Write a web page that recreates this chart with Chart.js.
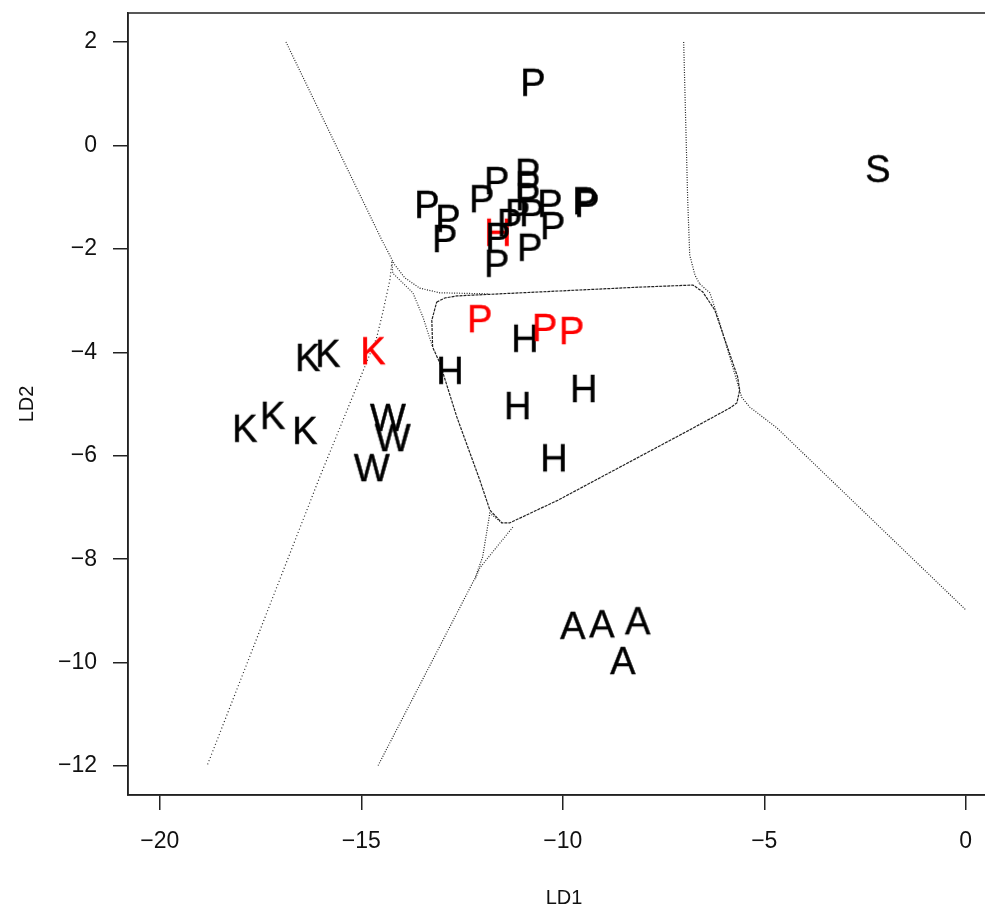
<!DOCTYPE html>
<html>
<head>
<meta charset="utf-8">
<script src="https://cdn.jsdelivr.net/npm/chart.js@4/dist/chart.umd.min.js"></script>
<style>
  html, body { margin: 0; padding: 0; background: #fff; overflow: hidden; }
  #wrap { width: 1010px; height: 910px; }
</style>
</head>
<body>
<div id="wrap"><canvas id="myChart" width="1010" height="910"></canvas></div>
<script>
// group scores (LD1, LD2), one array per label
const pX = [-10.74, -13.37, -12.85, -12.93, -12.01, -11.64, -10.87, -10.87, -11.12, -10.77,
            -10.32, -10.25, -9.45, -9.40, -11.61, -11.32, -10.82, -11.64, -10.87];
const pY = [1.23, -1.13, -1.40, -1.79, -1.02, -0.67, -0.51, -0.75, -1.29, -1.29,
            -1.11, -1.54, -1.06, -1.11, -1.75, -1.48, -1.96, -2.27, -0.98];
const pRedX = [-12.06, -10.45, -9.78];
const pRedY = [-3.34, -3.51, -3.57];
const hX = [-10.94, -12.80, -9.48, -11.12, -10.22];
const hY = [-3.72, -4.34, -4.69, -5.02, -6.03];
const hRedX = [-11.61];
const hRedY = [-1.67];
const kX = [-16.33, -15.83, -17.89, -17.20, -16.40];
const kY = [-4.09, -4.01, -5.46, -5.21, -5.50];
const kRedX = [-14.71];
const kRedY = [-3.96];
const wX = [-14.34, -14.22, -14.74];
const wY = [-5.25, -5.64, -6.22];
const aX = [-9.75, -9.03, -8.14, -8.51];
const aY = [-9.27, -9.24, -9.18, -9.95];
const sX = [-2.18];
const sY = [-0.44];

// partition boundaries as [LD1, LD2] points
const bUpperLeft = [[-16.87, 2.00], [-14.49, -1.83], [-14.17, -2.31], [-13.92, -2.56],
                    [-13.55, -2.76], [-13.05, -2.85], [-11.86, -2.87]];
const bInnerBox = [[-13.13, -3.03], [-12.93, -2.95], [-12.63, -2.91], [-8.09, -2.74], [-6.77, -2.70],
                   [-6.53, -2.83], [-6.23, -3.18], [-5.66, -4.48], [-5.61, -4.73], [-5.68, -4.98],
                   [-5.86, -5.08], [-6.85, -5.50], [-10.12, -6.86], [-11.32, -7.30], [-11.51, -7.30],
                   [-11.81, -7.05], [-12.06, -6.47], [-12.63, -5.25], [-13.05, -4.21], [-13.23, -3.90],
                   [-13.25, -3.38], [-13.13, -3.03]];
const bLeftJunction = [[-14.24, -2.25], [-14.22, -2.47], [-13.72, -2.85], [-13.47, -3.32], [-13.23, -3.90]];
const bKW = [[-14.24, -2.25], [-14.29, -2.60], [-14.47, -3.24], [-14.62, -3.72], [-16.03, -6.41], [-18.83, -12.00]];
const bRightVertical = [[-7.00, 2.00], [-6.90, -1.06], [-6.85, -2.12], [-6.72, -2.51], [-6.60, -2.68]];
const bRightLower = [[-6.60, -2.68], [-6.35, -2.85], [-6.15, -3.32], [-5.56, -4.87], [-5.36, -5.06],
                     [-4.69, -5.46], [0.00, -8.98]];
const bBottom = [[-11.51, -7.30], [-11.81, -7.11], [-11.99, -7.96], [-12.18, -8.37], [-14.59, -12.00]];
const bBottom2 = [[-11.24, -7.38], [-12.06, -8.17], [-12.18, -8.40]];

const xTicks = [-20, -15, -10, -5, 0];
const yTicks = [2, 0, -2, -4, -6, -8, -10, -12];

const FONT = '"Liberation Sans", Arial, sans-serif';

// letter glyph used as point marker
function letterImage(letter, color) {
  const c = document.createElement("canvas");
  c.width = 52;
  c.height = 48;
  const g = c.getContext("2d");
  g.translate(26, 24);
  g.scale(1.12, 1.16);
  g.font = "34px " + FONT;
  g.fillStyle = color;
  g.strokeStyle = color;
  g.lineWidth = 0.4;
  g.textAlign = "center";
  g.textBaseline = "alphabetic";
  g.fillText(letter, 0, 12.2);
  g.strokeText(letter, 0, 12.2);
  return c;
}

function pts(xs, ys) {
  return xs.map((x, i) => ({ x: x, y: ys[i] }));
}

function pairs(arr) {
  return arr.map((p) => ({ x: p[0], y: p[1] }));
}

function letterSet(letter, color, xs, ys) {
  return {
    label: letter,
    data: pts(xs, ys),
    pointStyle: letterImage(letter, color),
    showLine: false,
  };
}

function boundarySet(arr, dash, color) {
  return {
    label: "boundary",
    data: pairs(arr),
    showLine: true,
    pointRadius: 0,
    borderColor: color,
    borderWidth: 1.2,
    borderDash: dash,
    fill: false,
  };
}

const frame = {
  id: "frame",
  afterDraw(chart) {
    const { ctx, chartArea } = chart;
    ctx.save();
    ctx.strokeStyle = "#222";
    ctx.lineWidth = 1.5;
    ctx.strokeRect(chartArea.left, chartArea.top, chartArea.right - chartArea.left, chartArea.bottom - chartArea.top);
    ctx.restore();
  },
};

const minus = (v) => String(v).replace("-", "\u2212");

const ctx = document.getElementById("myChart").getContext("2d");
new Chart(ctx, {
  type: "scatter",
  data: {
    datasets: [
      letterSet("P", "#000", pX, pY),
      letterSet("P", "#ff0000", pRedX, pRedY),
      letterSet("H", "#000", hX, hY),
      letterSet("H", "#ff0000", hRedX, hRedY),
      letterSet("K", "#000", kX, kY),
      letterSet("K", "#ff0000", kRedX, kRedY),
      letterSet("W", "#000", wX, wY),
      letterSet("A", "#000", aX, aY),
      letterSet("S", "#000", sX, sY),
      boundarySet(bInnerBox, [3, 1], "#222"),
      boundarySet(bUpperLeft, [1, 1.5], "#222"),
      boundarySet(bLeftJunction, [1, 1.5], "#333"),
      boundarySet(bKW, [1, 2.5], "#222"),
      boundarySet(bRightVertical, [1, 1.5], "#222"),
      boundarySet(bRightLower, [1, 1.5], "#222"),
      boundarySet(bBottom, [1, 1.5], "#222"),
      boundarySet(bBottom2, [1, 1.5], "#333"),
    ],
  },
  options: {
    responsive: false,
    animation: false,
    layout: { padding: { left: 0, top: 13, right: 10, bottom: 0 } },
    plugins: {
      legend: { display: false },
      tooltip: { enabled: false },
    },
    scales: {
      x: {
        type: "linear",
        min: -20.79,
        max: 0.85,
        afterFit: (scale) => {
          scale.height = 115;
          scale.paddingLeft = 0;
          scale.paddingRight = 0;
        },
        afterBuildTicks: (scale) => { scale.ticks = xTicks.map((v) => ({ value: v })); },
        border: { display: true, color: "#222", width: 1.5 },
        grid: { drawOnChartArea: false, drawTicks: true, tickLength: 15, color: "#222", lineWidth: 1.5 },
        ticks: {
          color: "#111",
          font: { family: FONT, size: 23 },
          padding: 18,
          maxRotation: 0,
          callback: minus,
        },
        title: {
          display: true,
          text: "LD1",
          color: "#111",
          font: { family: FONT, size: 20 },
          padding: { top: 0, bottom: 0 },
        },
      },
      y: {
        type: "linear",
        min: -12.56,
        max: 2.56,
        afterFit: (scale) => {
          scale.width = 128;
          scale.paddingTop = 0;
          scale.paddingBottom = 0;
        },
        afterBuildTicks: (scale) => { scale.ticks = yTicks.map((v) => ({ value: v })); },
        border: { display: true, color: "#222", width: 1.5 },
        grid: { drawOnChartArea: false, drawTicks: true, tickLength: 15, color: "#222", lineWidth: 1.5 },
        ticks: {
          color: "#111",
          font: { family: FONT, size: 23 },
          padding: 16,
          callback: minus,
        },
        title: {
          display: true,
          text: "LD2",
          color: "#111",
          font: { family: FONT, size: 20 },
          padding: { top: 15, bottom: 0 },
        },
      },
    },
  },
  plugins: [frame],
});
</script>
</body>
</html>
